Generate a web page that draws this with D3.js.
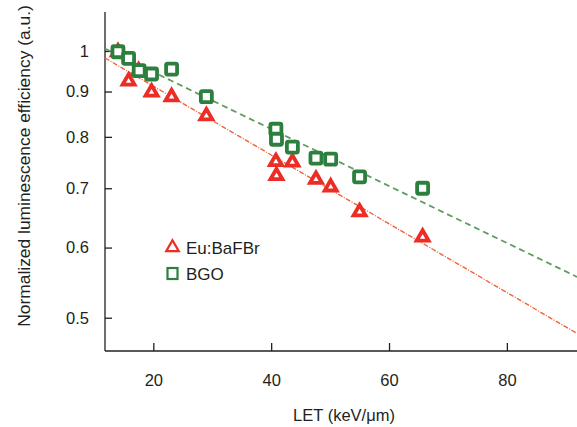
<!DOCTYPE html>
<html><head><meta charset="utf-8">
<script src="https://cdn.jsdelivr.net/npm/d3@7"></script>
<style>body{margin:0;background:#fff}svg{display:block}text{font-family:"Liberation Sans",Arial,sans-serif;fill:#231f20}</style>
</head><body><svg id="c" width="577" height="427"></svg>
<script>
// Data
const bgoLET = [14.0, 15.8, 17.6, 19.7, 23.1, 29.0, 40.8, 40.9, 43.6, 47.6, 50.1, 55.0, 65.7];
const bgoEff = [0.998, 0.981, 0.950, 0.942, 0.954, 0.888, 0.816, 0.795, 0.779, 0.757, 0.755, 0.721, 0.700];
const eufLET = [14.0, 17.5, 15.8, 19.7, 23.1, 29.0, 40.8, 40.9, 43.6, 47.6, 50.1, 55.0, 65.7];
const eufEff = [1.0, 0.952, 0.927, 0.901, 0.890, 0.847, 0.752, 0.725, 0.751, 0.718, 0.704, 0.660, 0.618];
const fitLET = [11.8, 91.9];
const fitEuf = [0.982, 0.480];
const fitBgo = [1.006, 0.556];
const xTicks = [20, 40, 60, 80];
const yTicks = [0.5, 0.6, 0.7, 0.8, 0.9, 1];
const seriesNames = ["Eu:BaFBr", "BGO"];

const svg = d3.select("#c");
const x = d3.scaleLinear().domain([11.8, 91.9]).range([105, 577]);
const y = d3.scaleLog().domain([0.4586, 1.1066]).range([351, 12]);

const red = "#ec2d26", green = "#2d7f3e";

// axes
const xa = svg.append("g").attr("transform", "translate(0,351)")
  .call(d3.axisBottom(x).tickValues(xTicks).tickSize(-8).tickPadding(23).tickFormat(d3.format("d")));
const ya = svg.append("g").attr("transform", "translate(105,0)")
  .call(d3.axisLeft(y).tickValues(yTicks).tickSize(-7).tickPadding(16).tickFormat(d => d === 1 ? "1" : d3.format(".1f")(d)));
[xa, ya].forEach(a => {
  a.select(".domain").attr("stroke", "#231f20").attr("stroke-width", 1.3);
  a.selectAll(".tick line").attr("stroke", "#231f20").attr("stroke-width", 1.3);
  a.selectAll(".tick text").attr("font-size", 16.5).style("font-family", '"Liberation Sans",Arial,sans-serif').attr("fill", "#231f20");
});
ya.select(".domain").attr("d", "M0,12V351");
xa.select(".domain").attr("d", `M0,0H${577-105}`).attr("transform","translate(105,0)");

// fit lines
const line = d3.line().x(d => x(d[0])).y(d => y(d[1]));
svg.append("path").datum(fitLET.map((v,i)=>[v,fitEuf[i]])).attr("d", line)
  .attr("fill","none").attr("stroke","#f0643c").attr("stroke-width",1.4).attr("stroke-dasharray","5,1.5,1,1.5");
svg.append("path").datum(fitLET.map((v,i)=>[v,fitBgo[i]])).attr("d", line)
  .attr("fill","none").attr("stroke","#5f9d5f").attr("stroke-width",1.8).attr("stroke-dasharray","6,4");

// markers
const tri = d3.symbol().type(d3.symbolTriangle).size(62);
svg.append("g").selectAll("path").data(eufLET.map((v,i)=>[v,eufEff[i]])).join("path")
  .attr("d", tri).attr("transform", d => `translate(${x(d[0])},${y(d[1])+1})`)
  .attr("fill", "#fff").attr("stroke", red).attr("stroke-width", 3.8).attr("stroke-linejoin","miter");
svg.append("g").selectAll("rect").data(bgoLET.map((v,i)=>[v,bgoEff[i]])).join("rect")
  .attr("x", d => x(d[0]) - 5.5).attr("y", d => y(d[1]) - 5.5).attr("width", 11).attr("height", 11).attr("rx", 1.5)
  .attr("fill", "#fff").attr("stroke", green).attr("stroke-width", 3.8);

// legend
const lg = svg.append("g");
lg.append("path").attr("d", d3.symbol().type(d3.symbolTriangle).size(68)).attr("transform","translate(172.5,247.5)")
  .attr("fill","none").attr("stroke",red).attr("stroke-width",2.2);
lg.append("rect").attr("x",167.5).attr("y",268).attr("width",10).attr("height",11).attr("fill","none").attr("stroke",green).attr("stroke-width",2.2);
lg.append("text").attr("x",186).attr("y",254).attr("font-size",17).text(seriesNames[0]);
lg.append("text").attr("x",186).attr("y",280).attr("font-size",17).text(seriesNames[1]);

// titles
svg.append("text").attr("x", 344).attr("y", 421).attr("text-anchor","middle").attr("font-size",16.5).text("LET (keV/μm)");
svg.append("text").attr("transform","translate(30,166) rotate(-90)").attr("text-anchor","middle").attr("font-size",17.4)
  .text("Normalized luminescence efficiency (a.u.)");
</script></body></html>
